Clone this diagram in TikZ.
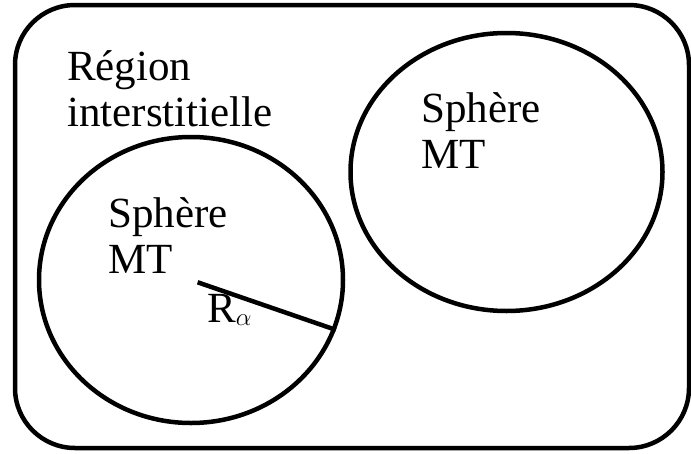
\documentclass[tikz,border=0pt]{standalone}
\usepackage{fontspec}
\setmainfont{Liberation Serif}
\usetikzlibrary{shapes.geometric}

\begin{document}
\begin{tikzpicture}[x=1pt,y=-1pt,
      sphere/.style={draw,ellipse,line width=4.5pt,inner sep=0pt},
      word/.style={anchor=base west,inner sep=0pt,align=left,
                   font=\fontsize{43}{46}\selectfont},
      rayon/.style={line width=4.5pt}]
    \useasboundingbox (0,0) rectangle (691,453);
    \node[draw,line width=4.5pt,rounded corners=60pt,inner sep=0pt,
          minimum width=674pt,minimum height=443pt] (cell) at (352,226.5) {};
    \node[sphere,minimum width=304pt,minimum height=286pt] (sphA) at (191,280) {};
    \node[sphere,minimum width=312pt,minimum height=278pt] (sphB) at (506.5,172) {};
    \node[word] (region) at (67,126) {Région\\interstitielle};
    \node[word] (textA) at (108,273) {Sphère\\MT};
    \node[word] (textB) at (421,168) {Sphère\\MT};
    \node[word] (ralpha) at (207,322) {R$_\alpha$};
    \draw[rayon,shorten <=7pt] (sphA.center) -- (sphA.-19);
  \end{tikzpicture}
\end{document}
